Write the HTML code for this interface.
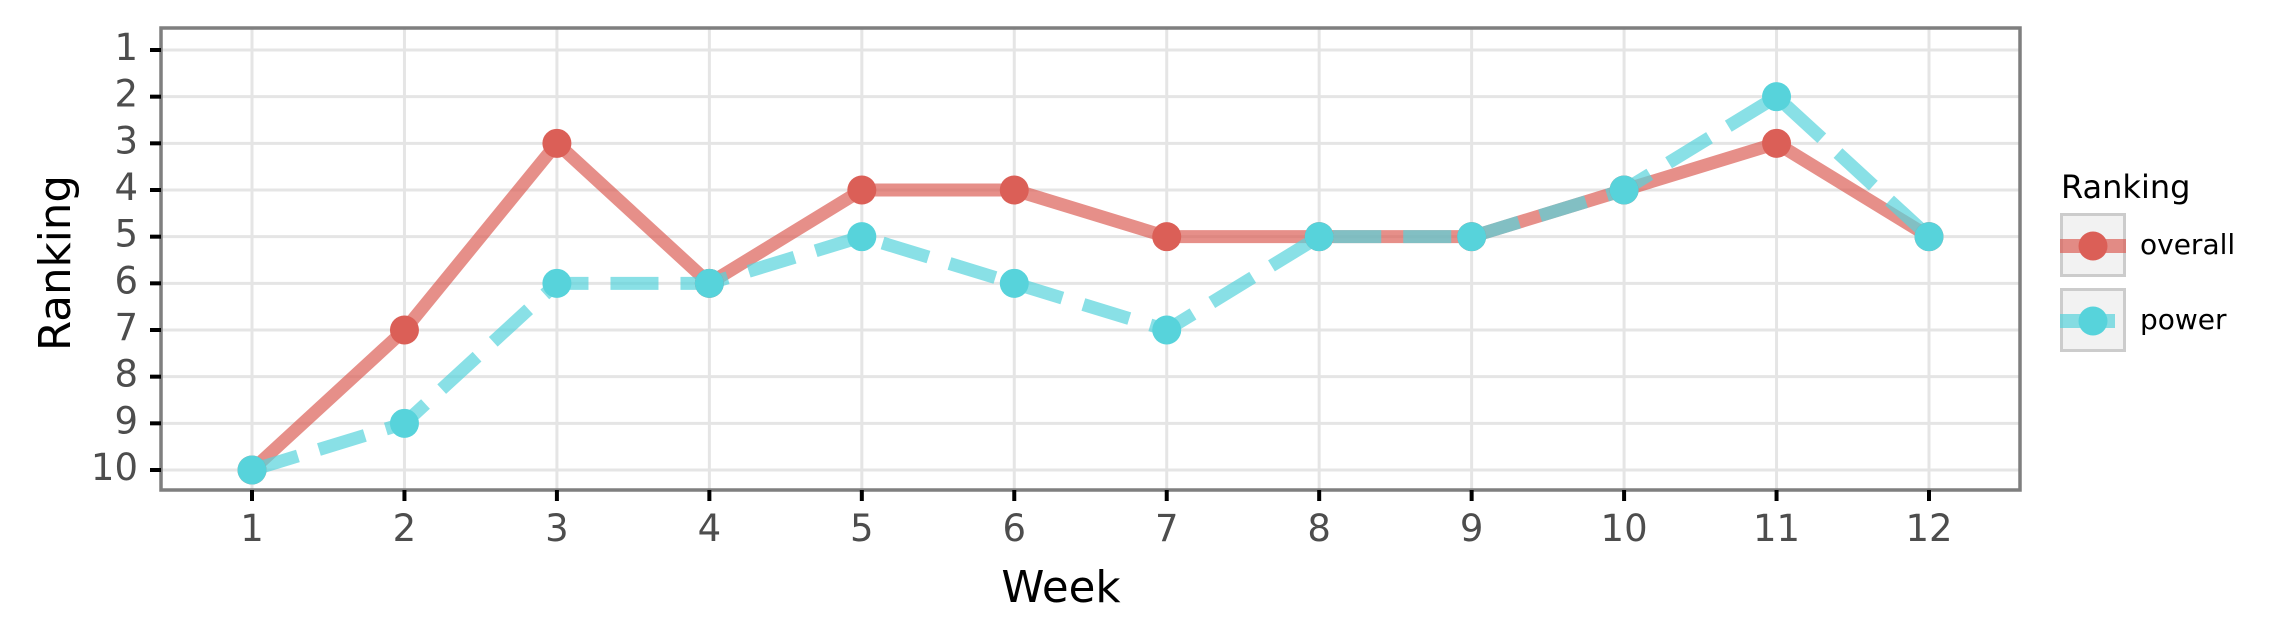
<!DOCTYPE html>
<html><head><meta charset="utf-8"><style>
html,body{margin:0;padding:0;background:#fff;}
svg{display:block;font-family:"DejaVu Sans","Liberation Sans",sans-serif;}
</style></head><body>
<svg id="chart" width="2276" height="641" viewBox="0 0 2276 641" xmlns="http://www.w3.org/2000/svg"></svg>
<script>
const weeks = [1,2,3,4,5,6,7,8,9,10,11,12];
const overallRank = [10,7,3,6,4,4,5,5,5,4,3,5];
const powerRank = [10,9,6,6,5,6,7,5,5,4,2,5];
const yTicks = [1,2,3,4,5,6,7,8,9,10];

const NS = "http://www.w3.org/2000/svg";
const svg = document.getElementById('chart');
const X0 = 252, X1 = 1929, Y0 = 50, Y1 = 470;
const FL = 161, FT = 28, FR = 2020, FB = 490;
function xs(w){ return X0 + (w - 1) * (X1 - X0) / 11; }
function ys(r){ return Y0 + (r - 1) * (Y1 - Y0) / 9; }
function el(tag, attrs, parent){
  const e = document.createElementNS(NS, tag);
  for (const k in attrs) e.setAttribute(k, attrs[k]);
  (parent || svg).appendChild(e);
  return e;
}
const RED = "#DB5F57", CYAN = "#57D3DB";

const bg = el('rect', {x:FL, y:FT, width:FR-FL, height:FB-FT, fill:'#fff'});



const grid = el('g', {stroke:'#e5e5e5', 'stroke-width':3});


yTicks.forEach(t => el('line', {x1:FL, x2:FR, y1:ys(t), y2:ys(t)}, grid));
weeks.forEach(w => el('line', {x1:xs(w), x2:xs(w), y1:FT, y2:FB}, grid));

function series(vals, color, dash, name){
  const pts = weeks.map((w,i) => xs(w) + ',' + ys(vals[i])).join(' ');
  const a = {points:pts, fill:'none', stroke:color, 'stroke-opacity':0.7, 'stroke-width':13, 'stroke-linejoin':'round'};
  if (dash) a['stroke-dasharray'] = dash;
  const l = el('polyline', a);
  
  
}
function points(vals, color, name){
  const g = el('g', {fill:color});
  
  
  weeks.forEach((w,i) => {
    const c = el('circle', {cx:xs(w), cy:ys(vals[i]), r:14.5}, g);
    
    
  });
}
series(overallRank, RED, null, 'overall');
series(powerRank, CYAN, '48 22', 'power');
points(overallRank, RED, 'overall');
points(powerRank, CYAN, 'power');

const frame = el('rect', {x:FL, y:FT, width:FR-FL, height:FB-FT, fill:'none', stroke:'#7f7f7f', 'stroke-width':3.5});



const yax = el('g', {});


yTicks.forEach(t => {
  el('line', {x1:FL-11, x2:FL, y1:ys(t), y2:ys(t), stroke:'#000', 'stroke-width':4}, yax);
  const tx = el('text', {x:138, y:ys(t)+10, 'text-anchor':'end', 'font-size':37, fill:'#4d4d4d'}, yax);
  tx.textContent = t;
  
  
});
const xax = el('g', {});


weeks.forEach(w => {
  el('line', {x1:xs(w), x2:xs(w), y1:FB, y2:FB+11, stroke:'#000', 'stroke-width':4}, xax);
  const tx = el('text', {x:xs(w), y:541, 'text-anchor':'middle', 'font-size':37, fill:'#4d4d4d'}, xax);
  tx.textContent = w;
  
  
});
const xt = el('text', {x:1061, y:602, 'text-anchor':'middle', 'font-size':43.5, fill:'#000'});
xt.textContent = 'Week';


const yt = el('text', {x:0, y:0, 'text-anchor':'middle', 'font-size':43.5, fill:'#000', transform:'translate(70,263) rotate(-90)'});
yt.textContent = 'Ranking';



const leg = el('g', {});


const lt = el('text', {x:2061, y:198, 'font-size':32, fill:'#000'}, leg);
lt.textContent = 'Ranking';


[['overall', RED, 213, 2126], ['power', CYAN, 288, 2115]].forEach(([n, c, y, le]) => {
  const g = el('g', {}, leg);
  
  
  el('rect', {x:2061.5, y:y+1.5, width:63, height:61, fill:'#f2f2f2', stroke:'#cccccc', 'stroke-width':3}, g);
  el('rect', {x:2060, y:y+26, width:le-2060, height:14, fill:c, 'fill-opacity':0.7}, g);
  el('circle', {cx:2093, cy:y+33, r:14.5, fill:c}, g);
  const t = el('text', {x:2140, y:y+41, 'font-size':28, fill:'#000'}, g);
  t.textContent = n;
});
</script>
</body></html>
